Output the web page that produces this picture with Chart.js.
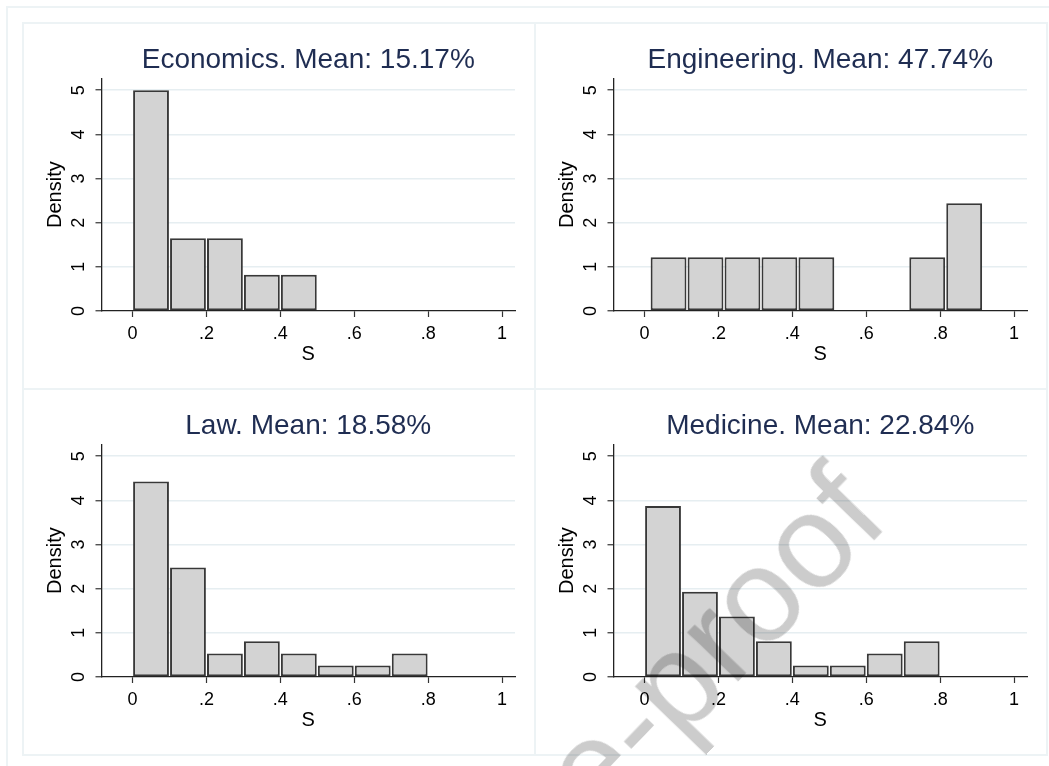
<!DOCTYPE html>
<html>
<head>
<meta charset="utf-8">
<title>Share S by field</title>
<script src="https://cdn.jsdelivr.net/npm/chart.js@4.4.1/dist/chart.umd.min.js"></script>
<style>
  html, body { margin: 0; padding: 0; background: #ffffff; }
  #page { position: relative; width: 1049px; height: 766px; overflow: hidden; background: #ffffff; }
  .outer { position: absolute; left: 6px; top: 6px; width: 2000px; height: 2000px;
           border-left: 2px solid #edf3f5; border-top: 2px solid #edf3f5; }
  .box { position: absolute; width: 514px; height: 368px; box-sizing: border-box; border: 2px solid #edf3f5; }
  .panel { position: absolute; width: 512px; height: 366px; }
  .panel canvas { display: block; }
  #mark { position: absolute; white-space: nowrap; line-height: 1; font-family: 'Liberation Sans', Arial, sans-serif;
          font-size: 134px; color: rgba(0, 0, 0, 0.2); pointer-events: none; z-index: 5; }
</style>
</head>
<body>
<div id="page">
  <div class="outer"></div>
  <div class="box" style="left:22px; top:22px;"></div>
  <div class="box" style="left:534px; top:22px;"></div>
  <div class="box" style="left:22px; top:388px;"></div>
  <div class="box" style="left:534px; top:388px;"></div>
  <div class="panel" style="left:23px; top:23px;"><canvas id="econ" width="512" height="366"></canvas></div>
  <div class="panel" style="left:535px; top:23px;"><canvas id="eng" width="512" height="366"></canvas></div>
  <div class="panel" style="left:23px; top:389px;"><canvas id="law" width="512" height="366"></canvas></div>
  <div class="panel" style="left:535px; top:389px;"><canvas id="med" width="512" height="366"></canvas></div>
  <div id="mark">Journal Pre-proof</div>
</div>
<script>
// Histogram data: bin centres (bin width 0.1) and density of S per field
const econBins = [0.05, 0.15, 0.25, 0.35, 0.45];
const econDensity = [5.0, 1.65, 1.65, 0.82, 0.82];

const engBins = [0.065, 0.165, 0.265, 0.365, 0.465, 0.765, 0.865];
const engDensity = [1.22, 1.22, 1.22, 1.22, 1.22, 1.22, 2.44];

const lawBins = [0.05, 0.15, 0.25, 0.35, 0.45, 0.55, 0.65, 0.75];
const lawDensity = [4.43, 2.48, 0.53, 0.81, 0.53, 0.26, 0.26, 0.53];

const medBins = [0.05, 0.15, 0.25, 0.35, 0.45, 0.55, 0.65, 0.75];
const medDensity = [3.87, 1.93, 1.37, 0.81, 0.26, 0.26, 0.53, 0.81];

const panelTitles = ['Economics. Mean: 15.17%', 'Engineering. Mean: 47.74%', 'Law. Mean: 18.58%', 'Medicine. Mean: 22.84%'];

const xTickValues = [0, 0.2, 0.4, 0.6, 0.8, 1];
const xTickLabels = ['0', '.2', '.4', '.6', '.8', '1'];
const yTickValues = [0, 1, 2, 3, 4, 5];
const yTickLabels = ['0', '1', '2', '3', '4', '5'];
const xAxisTitle = 'S';
const yAxisTitle = 'Density';

const FONT = "'Liberation Sans', Arial, Helvetica, sans-serif";
Chart.defaults.font.family = FONT;

const GRID = '#e6eef1';
const INK = '#000000';

function histogram(canvasId, title, bins, density) {
  return new Chart(document.getElementById(canvasId), {
    type: 'bar',
    data: {
      datasets: [{
        data: bins.map((x, i) => ({ x: x, y: density[i] })),
        backgroundColor: '#d3d3d3',
        borderColor: '#383838',
        borderWidth: 2,
        borderSkipped: false,
        barPercentage: 0.97,
        categoryPercentage: 1
      }]
    },
    options: {
      responsive: false,
      animation: false,
      devicePixelRatio: 1,
      layout: { padding: { left: 0, right: 20, top: 0, bottom: 0 } },
      plugins: {
        legend: { display: false },
        tooltip: { enabled: false },
        title: {
          display: true,
          text: title,
          fullSize: false,
          color: '#1f2d52',
          font: { family: FONT, size: 28, weight: 'normal', lineHeight: 1.2 },
          padding: { top: 20.2, bottom: 1.5 }
        }
      },
      scales: {
        x: {
          type: 'linear',
          min: -0.084,
          max: 1.035,
          bounds: 'data',
          offset: false,
          afterBuildTicks: s => { s.ticks = xTickValues.map(v => ({ value: v })); },
          afterFit: s => { s.height = 78; },
          grid: { display: true, drawOnChartArea: false, offset: false, tickLength: 6, tickColor: '#333333', tickWidth: 1.2 },
          border: { display: true, color: '#222222', width: 1.3 },
          ticks: {
            autoSkip: false, maxRotation: 0, minRotation: 0, padding: 6.5, color: INK,
            font: { family: FONT, size: 18, lineHeight: 1.2 },
            callback: (v, i) => xTickLabels[i]
          },
          title: {
            display: true, text: xAxisTitle, color: INK,
            font: { family: FONT, size: 20, lineHeight: 1.2 },
            padding: { top: 0, bottom: 22.5 }
          }
        },
        y: {
          type: 'linear',
          min: 0,
          max: 5.27,
          bounds: 'data',
          afterBuildTicks: s => { s.ticks = yTickValues.map(v => ({ value: v })); },
          afterFit: s => { s.width = 78.5; },
          grid: {
            display: true, drawOnChartArea: true, lineWidth: 1.5,
            color: c => (c.tick && c.tick.value === 0) ? 'rgba(0,0,0,0)' : GRID,
            tickLength: 6, tickColor: '#333333', tickWidth: 1.2
          },
          border: { display: true, color: '#222222', width: 1.3 },
          ticks: {
            autoSkip: false, minRotation: 90, maxRotation: 90, crossAlign: 'center', padding: 11, color: INK,
            font: { family: FONT, size: 18, lineHeight: 1.2 },
            callback: (v, i) => yTickLabels[i]
          },
          title: {
            display: true, text: yAxisTitle, color: INK,
            font: { family: FONT, size: 20, lineHeight: 1.2 },
            padding: { top: 20, bottom: 0 }
          }
        }
      }
    }
  });
}

histogram('econ', panelTitles[0], econBins, econDensity);
histogram('eng', panelTitles[1], engBins, engDensity);
histogram('law', panelTitles[2], lawBins, lawDensity);
histogram('med', panelTitles[3], medBins, medDensity);

// Diagonal pre-proof stamp, anchored at the end of its baseline
(function placeMark() {
  const mark = document.getElementById('mark');
  const size = 134;
  const baseline = 0.8465 * size;
  const endX = 892, endY = 522.5;
  mark.style.right = (1049 - endX) + 'px';
  mark.style.top = (endY - baseline) + 'px';
  mark.style.transformOrigin = '100% ' + baseline + 'px';
  mark.style.transform = 'rotate(-46deg)';
})();
</script>
</body>
</html>
